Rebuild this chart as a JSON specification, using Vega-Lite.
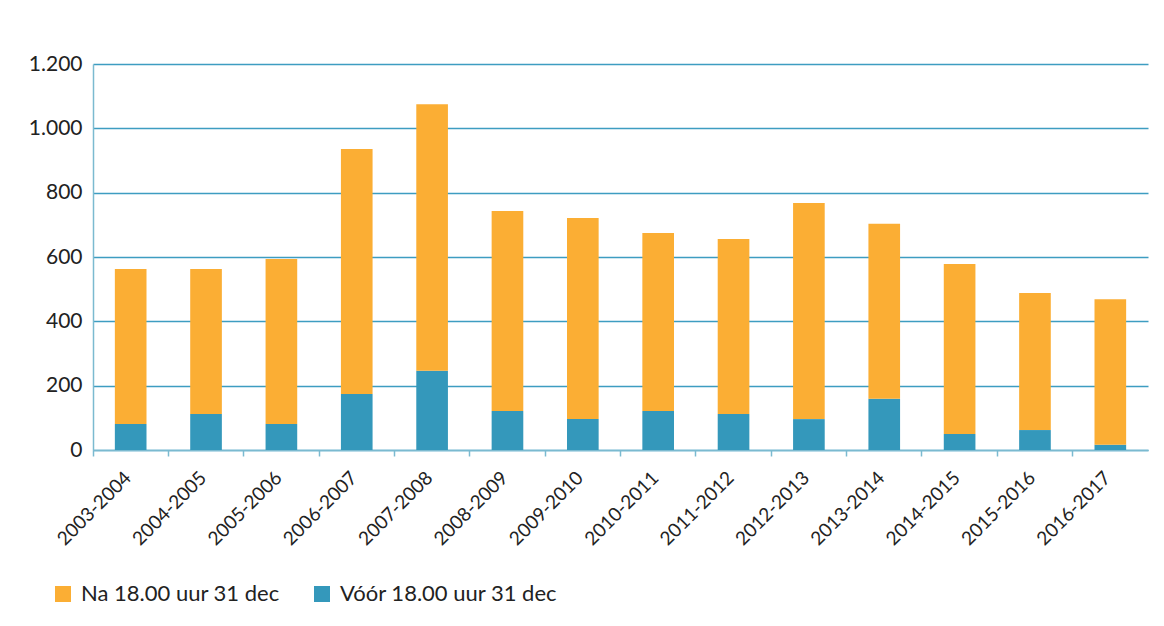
{
  "$schema": "https://vega.github.io/schema/vega-lite/v6.json",
  "autosize": {"type": "none"},
  "padding": {"left": 93, "top": 64, "right": 16, "bottom": 176},
  "width": 1055,
  "height": 386,
  "background": "white",
  "config": {
    "font": "Lato",
    "view": {"stroke": null}
  },
  "data": {
    "values": [
      {"season": "2003-2004", "serie": "Vóór 18.00 uur 31 dec", "ord": 0, "value": 81},
      {"season": "2003-2004", "serie": "Na 18.00 uur 31 dec", "ord": 1, "value": 482},
      {"season": "2004-2005", "serie": "Vóór 18.00 uur 31 dec", "ord": 0, "value": 112},
      {"season": "2004-2005", "serie": "Na 18.00 uur 31 dec", "ord": 1, "value": 451},
      {"season": "2005-2006", "serie": "Vóór 18.00 uur 31 dec", "ord": 0, "value": 81},
      {"season": "2005-2006", "serie": "Na 18.00 uur 31 dec", "ord": 1, "value": 513},
      {"season": "2006-2007", "serie": "Vóór 18.00 uur 31 dec", "ord": 0, "value": 174},
      {"season": "2006-2007", "serie": "Na 18.00 uur 31 dec", "ord": 1, "value": 762},
      {"season": "2007-2008", "serie": "Vóór 18.00 uur 31 dec", "ord": 0, "value": 246},
      {"season": "2007-2008", "serie": "Na 18.00 uur 31 dec", "ord": 1, "value": 829},
      {"season": "2008-2009", "serie": "Vóór 18.00 uur 31 dec", "ord": 0, "value": 121},
      {"season": "2008-2009", "serie": "Na 18.00 uur 31 dec", "ord": 1, "value": 622},
      {"season": "2009-2010", "serie": "Vóór 18.00 uur 31 dec", "ord": 0, "value": 96},
      {"season": "2009-2010", "serie": "Na 18.00 uur 31 dec", "ord": 1, "value": 625},
      {"season": "2010-2011", "serie": "Vóór 18.00 uur 31 dec", "ord": 0, "value": 121},
      {"season": "2010-2011", "serie": "Na 18.00 uur 31 dec", "ord": 1, "value": 554},
      {"season": "2011-2012", "serie": "Vóór 18.00 uur 31 dec", "ord": 0, "value": 112},
      {"season": "2011-2012", "serie": "Na 18.00 uur 31 dec", "ord": 1, "value": 544},
      {"season": "2012-2013", "serie": "Vóór 18.00 uur 31 dec", "ord": 0, "value": 96},
      {"season": "2012-2013", "serie": "Na 18.00 uur 31 dec", "ord": 1, "value": 672},
      {"season": "2013-2014", "serie": "Vóór 18.00 uur 31 dec", "ord": 0, "value": 159},
      {"season": "2013-2014", "serie": "Na 18.00 uur 31 dec", "ord": 1, "value": 544},
      {"season": "2014-2015", "serie": "Vóór 18.00 uur 31 dec", "ord": 0, "value": 50},
      {"season": "2014-2015", "serie": "Na 18.00 uur 31 dec", "ord": 1, "value": 528},
      {"season": "2015-2016", "serie": "Vóór 18.00 uur 31 dec", "ord": 0, "value": 62},
      {"season": "2015-2016", "serie": "Na 18.00 uur 31 dec", "ord": 1, "value": 426},
      {"season": "2016-2017", "serie": "Vóór 18.00 uur 31 dec", "ord": 0, "value": 16},
      {"season": "2016-2017", "serie": "Na 18.00 uur 31 dec", "ord": 1, "value": 453}
    ]
  },
  "mark": {"type": "bar", "width": {"band": 0.42}},
  "encoding": {
    "x": {
      "field": "season",
      "type": "nominal",
      "title": null,
      "scale": {"paddingInner": 0, "paddingOuter": 0},
      "axis": {
        "labelAngle": -45,
        "labelAlign": "right",
        "labelBaseline": "top",
        "labelFontSize": 19,
        "labelColor": "#222222",
        "labelPadding": 12,
        "labelOffset": -9,
        "bandPosition": 0,
        "domainColor": "#7bbad0",
        "domainWidth": 1.5,
        "tickColor": "#7bbad0",
        "tickWidth": 1.5,
        "tickSize": 6,
        "grid": false
      }
    },
    "y": {
      "field": "value",
      "type": "quantitative",
      "aggregate": "sum",
      "stack": "zero",
      "title": null,
      "scale": {"domain": [0, 1200], "nice": false},
      "axis": {
        "values": [0, 200, 400, 600, 800, 1000, 1200],
        "format": ",d",
        "labelExpr": "replace(datum.label, ',', '.')",
        "labelFontSize": 21,
        "labelColor": "#222222",
        "labelPadding": 11,
        "tickSize": 0,
        "domainColor": "#7bbad0",
        "domainWidth": 1.5,
        "gridColor": "#3d9dc1",
        "gridWidth": 1.5
      }
    },
    "color": {
      "field": "serie",
      "type": "nominal",
      "sort": ["Na 18.00 uur 31 dec", "Vóór 18.00 uur 31 dec"],
      "scale": {
        "domain": ["Na 18.00 uur 31 dec", "Vóór 18.00 uur 31 dec"],
        "range": ["#fbae34", "#3498bb"]
      },
      "legend": {
        "title": null,
        "orient": "none",
        "direction": "horizontal",
        "legendX": -41,
        "legendY": 519,
        "symbolType": "square",
        "symbolSize": 256,
        "symbolStrokeWidth": 0,
        "labelFontSize": 22,
        "labelLimit": 400,
        "labelColor": "#222222",
        "labelOffset": 7,
        "columnPadding": 31
      }
    },
    "order": {"field": "ord", "type": "quantitative"}
  }
}
